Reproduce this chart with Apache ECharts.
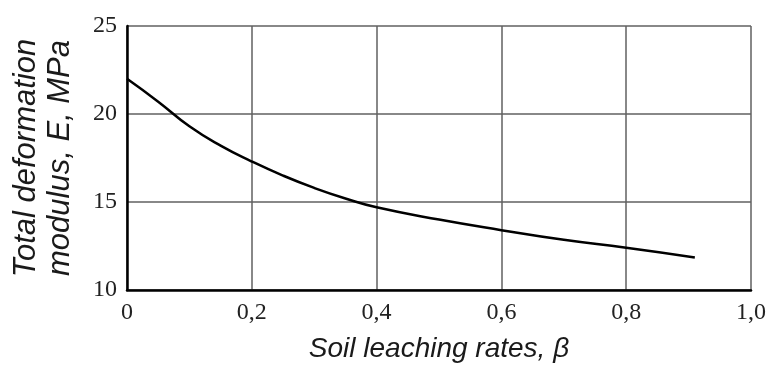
<!DOCTYPE html>
<html>
<head>
<meta charset="utf-8">
<script src="https://cdn.jsdelivr.net/npm/echarts@6/dist/echarts.min.js"></script>
<style>
  html, body { margin: 0; padding: 0; background: #fff; }
  #chart { width: 769px; height: 371px; }
</style>
</head>
<body>
<div id="chart"></div>
<script>
// leaching rate beta vs total deformation modulus E (MPa)
var beta = [0, 0.05, 0.1, 0.15, 0.2, 0.25, 0.3, 0.35, 0.4, 0.5, 0.6, 0.7, 0.8, 0.91]
var modulus = [22.0, 20.7, 19.3, 18.2, 17.3, 16.5, 15.8, 15.2, 14.7, 14.0, 13.4, 12.85, 12.4, 11.85]

var xTicks = [0, 0.2, 0.4, 0.6, 0.8, 1.0]
var yTicks = [10, 15, 20, 25]

var myChart = echarts.init(document.getElementById('chart'))

var points = beta.map(function (b, i) {
  return [b, modulus[i]]
})

var option = {
  animation: false,
  grid: {
    left: 127,
    right: 17,
    top: 26,
    bottom: 81,
  },
  xAxis: {
    type: 'value',
    min: xTicks[0],
    max: xTicks[xTicks.length - 1],
    interval: 0.2,
    name: 'Soil leaching rates, \u03b2',
    nameLocation: 'middle',
    nameGap: 45,
    nameTextStyle: {
      fontFamily: 'Liberation Sans',
      fontStyle: 'italic',
      fontSize: 28,
      color: '#1a1a1a',
    },
    axisLine: { show: true, lineStyle: { color: '#000', width: 2.5 } },
    axisTick: { show: false },
    axisLabel: {
      margin: 11,
      fontFamily: 'Liberation Serif',
      fontSize: 24,
      color: '#222',
      formatter: function (v) {
        // decimal comma as in the original figure
        return v === 0 ? '0' : v.toFixed(1).replace('.', ',')
      },
    },
    splitLine: { show: true, lineStyle: { color: '#606060', width: 1.5 } },
  },
  yAxis: {
    type: 'value',
    min: yTicks[0],
    max: yTicks[yTicks.length - 1],
    interval: 5,
    name: 'Total deformation\nmodulus, E, MPa',
    nameLocation: 'middle',
    nameGap: 50,
    nameTextStyle: {
      fontFamily: 'Liberation Sans',
      fontStyle: 'italic',
      fontSize: 31,
      lineHeight: 34,
      color: '#1a1a1a',
    },
    axisLine: { show: true, lineStyle: { color: '#000', width: 2.5 } },
    axisTick: { show: false },
    axisLabel: {
      margin: 10,
      fontFamily: 'Liberation Serif',
      fontSize: 24,
      color: '#222',
    },
    splitLine: { show: true, lineStyle: { color: '#606060', width: 1.5 } },
  },
  series: [
    {
      type: 'line',
      data: points,
      smooth: true,
      showSymbol: false,
      lineStyle: { color: '#000', width: 2.5 },
    },
  ],
}

myChart.setOption(option)
</script>
</body>
</html>
